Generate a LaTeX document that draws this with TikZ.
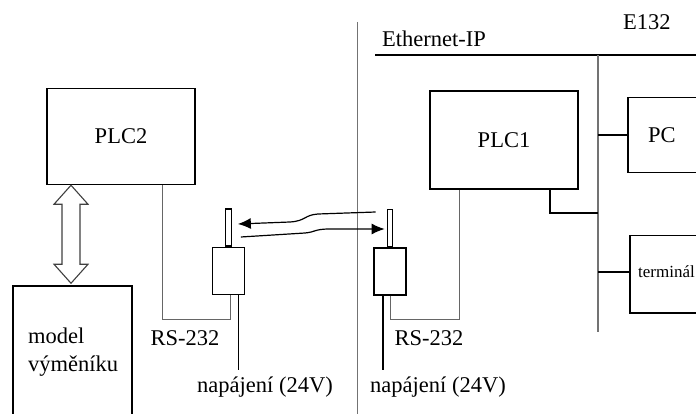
\documentclass[tikz,border=0pt]{standalone}
\usepackage{fontspec}
\setmainfont{Liberation Serif}
\usetikzlibrary{arrows.meta, positioning, calc}

\begin{document}
\begin{tikzpicture}[x=1pt, y=-1pt,
  box/.style={rectangle, draw, line width=1.5pt, inner sep=0pt, font=\fontsize{22.5}{27}\selectfont},
  dev/.style={rectangle, draw, line width=1.5pt, inner sep=0pt, minimum width=32pt, minimum height=47pt},
  ant/.style={rectangle, draw, line width=1.2pt, inner sep=0pt, minimum width=5.5pt, minimum height=37pt},
  txt/.style={inner sep=0pt, font=\fontsize{22.5}{28}\selectfont},
  wire/.style={draw=black!60, line width=0.9pt},
  power/.style={draw=black, line width=1.5pt},
  bus/.style={draw=black!55, line width=1.2pt},
  sig/.style={line width=1.2pt, -{Latex[length=13pt, width=11pt]}}]

\useasboundingbox (0,0) rectangle (696,414);
\clip (0,0) rectangle (696,414);

% dividing line and Ethernet-IP bus
\draw[draw=black!55, line width=1pt] (357.5,22) -- (357.5,414);
\draw[line width=1.5pt] (375,55) -- (700,55);
\coordinate (bustop) at (598,55);
\coordinate (busend) at (598,332);
\coordinate (tappc) at (598,135);
\coordinate (tapplc) at (598,213);
\coordinate (tapterm) at (598,272);
\draw[bus] (bustop) -- (busend);

\node[txt, anchor=base west] (eth) at (382,47) {Ethernet-IP};
\node[txt, anchor=base west] (ename) at (623,30) {E132};

% boxes
\node[box, minimum width=148pt, minimum height=96pt] (plctwo) at (121,136.5) {PLC2};
\node[box, minimum width=148pt, minimum height=98pt] (plcone) at (504,140) {PLC1};
\node[box, anchor=north west, minimum width=120pt, minimum height=75pt] (pc) at (627,97) {};
\node[txt, anchor=west] (pclabel) at (648,135) {PC};
\node[box, anchor=north west, minimum width=120pt, minimum height=77pt] (term) at (629,235) {};
\node[txt, anchor=west, font=\fontsize{17}{20}\selectfont] (termlabel) at (638,272) {terminál};
\node[box, anchor=north west, minimum width=119pt, minimum height=160pt] (model) at (12,285) {};
\node[txt, anchor=west, align=left] (modellabel) at (28,352) {model\\výměníku};

% RS-232 converters
\node[ant] (antl) at (228.5,227.5) {};
\node[dev, below=0pt of antl] (devl) {};
\node[ant] (antr) at (390,228) {};
\node[dev, below=0pt of antr] (devr) {};

% wiring
\draw[line width=1.5pt] ([xshift=46pt]plcone.south) |- (tapplc);
\draw[line width=1.5pt] (tappc) -- (tappc -| pc.west);
\draw[line width=1.5pt] (tapterm) -- (tapterm -| term.west);
\draw[wire] ([xshift=41pt]plctwo.south) |- ([xshift=2pt, yshift=-24pt]devl.south) -- ([xshift=2pt]devl.south);
\draw[power] ([xshift=10pt]devl.south) -- ++(0,75);
\draw[wire] (devr.south) -- ++(0,24) -| ([xshift=-45pt]plcone.south);
\draw[power] ([xshift=-7pt]devr.south) -- ++(0,74);

% PLC2 <-> model
\draw[line width=1.1pt, draw=black!75, fill=white] ([xshift=-50pt]plctwo.south) -- ++(-17,19) -- ++(8,0) -- ++(0,60) -- ++(-8,0)
  -- ++(17,19) -- ++(17,-19) -- ++(-8,0) -- ++(0,-60) -- ++(8,0) -- cycle;

% radio link
\draw[sig] ($(antr.west)+(-11,-16)$) -- (318,214) .. controls (304,215) and (306,221) .. (290,222) -- ($(antl.east)+(6,-3.5)$);
\draw[sig] ($(antl.east)+(9,9.5)$) -- (305,233) .. controls (316,232) and (314,229) .. (330,229) -- ($(antr.west)+(-2,1)$);

\node[txt, anchor=base] (rsl) at (185,345) {RS-232};
\node[txt, anchor=base] (rsr) at (429,345) {RS-232};
\node[txt, anchor=base] (pwrl) at (265,392) {napájení (24V)};
\node[txt, anchor=base] (pwrr) at (438,392) {napájení (24V)};

\end{tikzpicture}
\end{document}
